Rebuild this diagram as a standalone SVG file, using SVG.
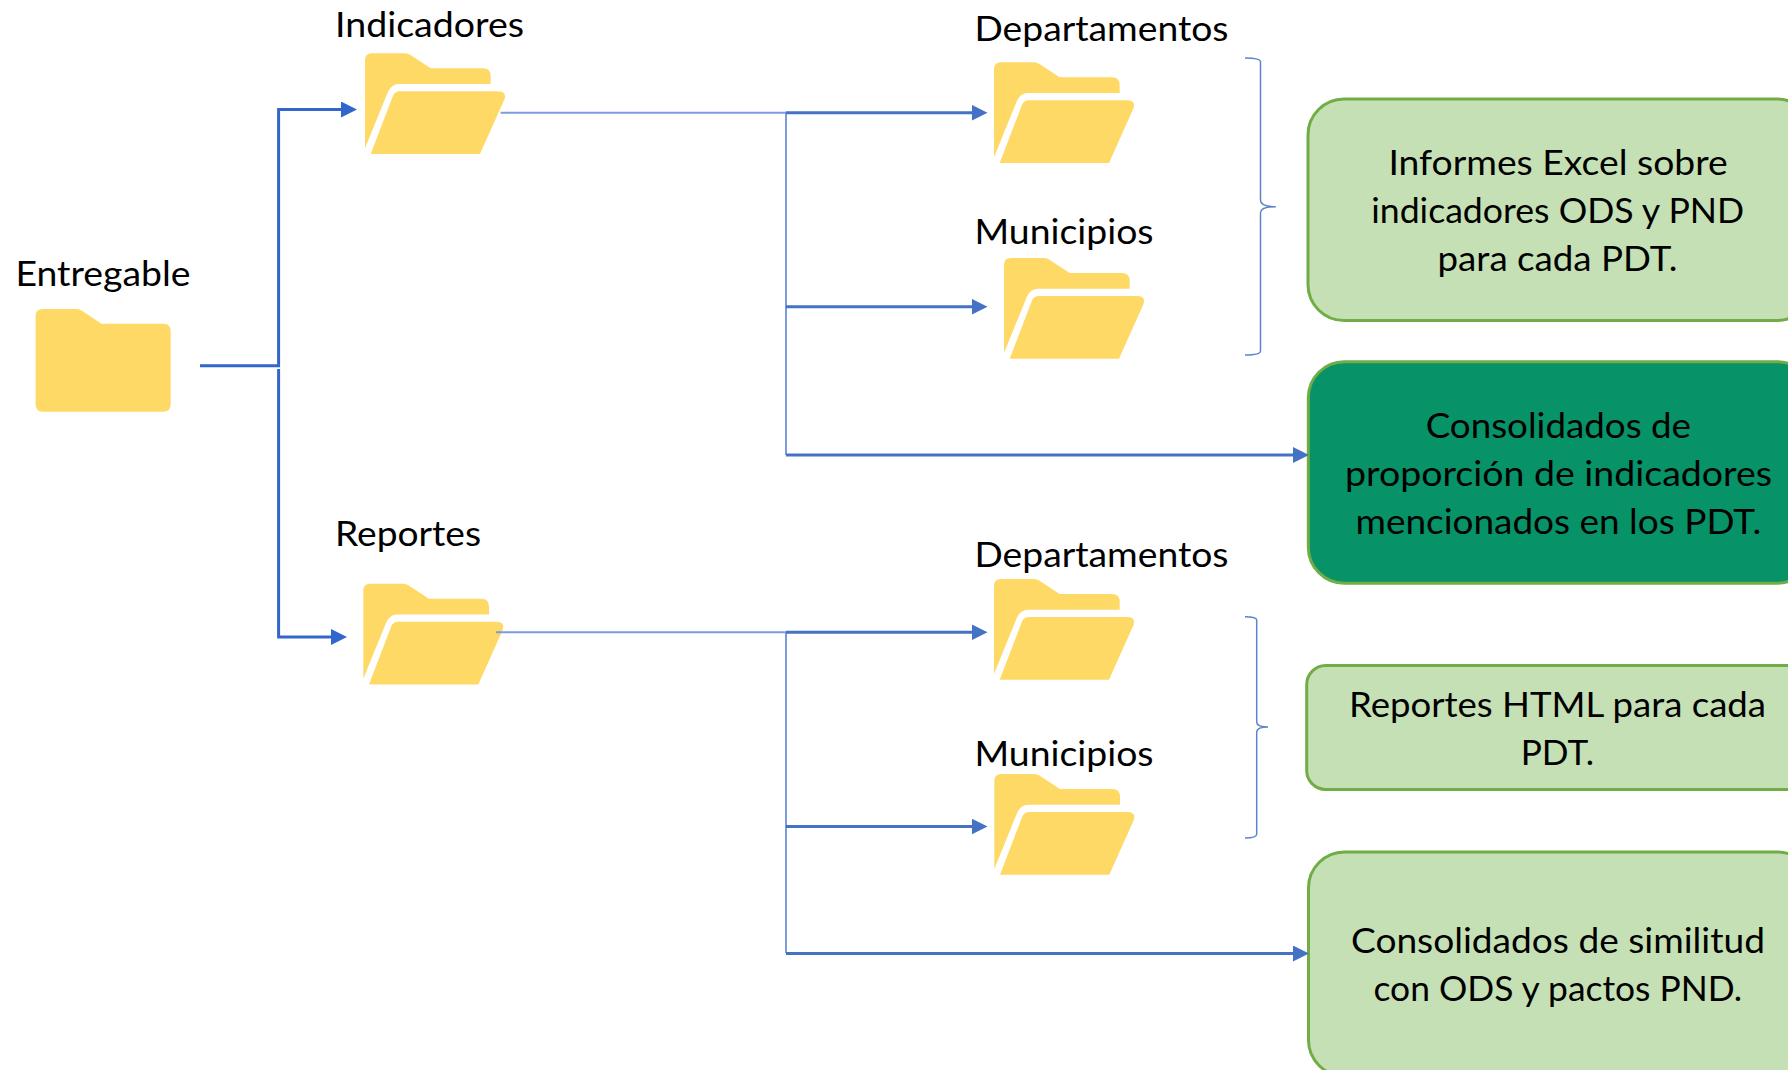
<svg xmlns="http://www.w3.org/2000/svg" width="1788" height="1070" viewBox="0 0 1788 1070">
<style>
text{font-family:"Lato","Open Sans",sans-serif;font-size:35px;fill:#000}
.folder{fill:#FFD966}
.box{fill:#C5E0B4;stroke:#70AD47;stroke-width:3}
.dark{fill:#079268}
.main{fill:none;stroke:#3366CC;stroke-width:3}
.branch{fill:none;stroke:#4472C4;stroke-width:3}
.thin{fill:none;stroke:#7A9CDC;stroke-width:2}
.brace{fill:none;stroke:#5B84CF;stroke-width:1.5}
</style>
<defs>
<marker id="a1" markerUnits="userSpaceOnUse" markerWidth="16" markerHeight="16" viewBox="0 0 16 16" refX="2" refY="8" orient="auto"><path d="M0 0L16 8L0 16Z" fill="#3366CC"/></marker>
<marker id="a2" markerUnits="userSpaceOnUse" markerWidth="16" markerHeight="16" viewBox="0 0 16 16" refX="2" refY="8" orient="auto"><path d="M0 0L16 8L0 16Z" fill="#4472C4"/></marker>
<g id="open">
<path class="folder" d="M0 7Q0 0 7 0H40Q43 0 45.500 1.700L65.700 15H118Q125.700 15 125.700 23V30.700H34Q26.500 30.700 23 38.500L0 95Z"/>
<path class="folder" d="M28 42.500Q30 38 34.500 38H133Q142 38 139.500 46L115 100.700H5.700Z"/>
</g>
</defs>
<rect width="1788" height="1070" fill="#fff"/>
<g id="node-entregable">
<path class="folder" d="M35.600 316Q35.600 309 43 309H76Q79.500 309 82 310.800L101.400 323.700H163Q170.700 323.700 170.700 331V404Q170.700 411.700 163 411.700H43Q35.600 411.700 35.600 404Z"/>
<text x="15.500" y="286" textLength="175" lengthAdjust="spacingAndGlyphs">Entregable</text>
</g>
<g id="node-indicadores">
<use href="#open" x="365" y="53.300"/>
<text x="335" y="37" textLength="189" lengthAdjust="spacingAndGlyphs">Indicadores</text>
</g>
<g id="node-reportes">
<use href="#open" x="363.300" y="583.700"/>
<text x="335" y="545.700" textLength="146" lengthAdjust="spacingAndGlyphs">Reportes</text>
</g>
<g id="node-departamentos-1">
<use href="#open" x="994" y="62.300"/>
<text x="974.500" y="40.700" textLength="254" lengthAdjust="spacingAndGlyphs">Departamentos</text>
</g>
<g id="node-municipios-1">
<use href="#open" x="1004" y="258"/>
<text x="974.500" y="244" textLength="179" lengthAdjust="spacingAndGlyphs">Municipios</text>
</g>
<g id="node-departamentos-2">
<use href="#open" x="994" y="579"/>
<text x="974.500" y="566.700" textLength="254" lengthAdjust="spacingAndGlyphs">Departamentos</text>
</g>
<g id="node-municipios-2">
<use href="#open" x="994.300" y="774"/>
<text x="974.500" y="766" textLength="179" lengthAdjust="spacingAndGlyphs">Municipios</text>
</g>
<g id="node-informes">
<rect class="box" x="1308" y="99" width="505" height="221.500" rx="36"/>
<text x="1388.400" y="175" textLength="339.300" lengthAdjust="spacingAndGlyphs">Informes Excel sobre</text>
<text x="1371.200" y="222.700" textLength="373" lengthAdjust="spacingAndGlyphs">indicadores ODS y PND</text>
<text x="1437.500" y="270.700" textLength="240" lengthAdjust="spacingAndGlyphs">para cada PDT.</text>
</g>
<g id="node-consolidados-proporcion">
<rect class="box dark" x="1308.300" y="361.700" width="505" height="221.500" rx="36"/>
<text x="1425.700" y="437.700" textLength="265.300" lengthAdjust="spacingAndGlyphs">Consolidados de</text>
<text x="1345" y="485.700" textLength="427" lengthAdjust="spacingAndGlyphs">proporción de indicadores</text>
<text x="1355.500" y="534" textLength="405.700" lengthAdjust="spacingAndGlyphs">mencionados en los PDT.</text>
</g>
<g id="node-reportes-html">
<rect class="box" x="1306.700" y="665.500" width="505" height="124" rx="19"/>
<text x="1349" y="716.700" textLength="417" lengthAdjust="spacingAndGlyphs">Reportes HTML para cada</text>
<text x="1520.700" y="765" textLength="73.300" lengthAdjust="spacingAndGlyphs">PDT.</text>
</g>
<g id="node-consolidados-similitud">
<rect class="box" x="1308.500" y="852" width="505" height="224" rx="36"/>
<text x="1351" y="953.300" textLength="414" lengthAdjust="spacingAndGlyphs">Consolidados de similitud</text>
<text x="1373.500" y="1001" textLength="368.700" lengthAdjust="spacingAndGlyphs">con ODS y pactos PND.</text>
</g>
<g id="connectors">
<path class="main" d="M200 365.700H278.600V109.500H343" marker-end="url(#a1)"/>
<path class="main" d="M278.600 369V637H333" marker-end="url(#a1)"/>
<path class="thin" d="M500.600 112.700H786"/>
<path class="thin" d="M786 112.700V455"/>
<path class="branch" d="M786 112.700H973.500" marker-end="url(#a2)"/>
<path class="branch" d="M786 306.700H973.500" marker-end="url(#a2)"/>
<path class="branch" d="M786 455H1295" marker-end="url(#a2)"/>
<path class="thin" d="M496 632.300H786"/>
<path class="thin" d="M786 632.300V953"/>
<path class="branch" d="M786 632.300H973.500" marker-end="url(#a2)"/>
<path class="branch" d="M786 826.500H973.500" marker-end="url(#a2)"/>
<path class="branch" d="M786 953.500H1295" marker-end="url(#a2)"/>
<path class="brace" d="M1245 58Q1260.500 58 1260.500 62V200Q1260.500 206.700 1275.800 206.700Q1260.500 206.700 1260.500 213V351Q1260.500 355 1245 355"/>
<path class="brace" d="M1245 616.700Q1256.700 616.700 1256.700 620V722Q1256.700 727 1268 727Q1256.700 727 1256.700 732V834Q1256.700 838 1245 838"/>
</g>
</svg>
